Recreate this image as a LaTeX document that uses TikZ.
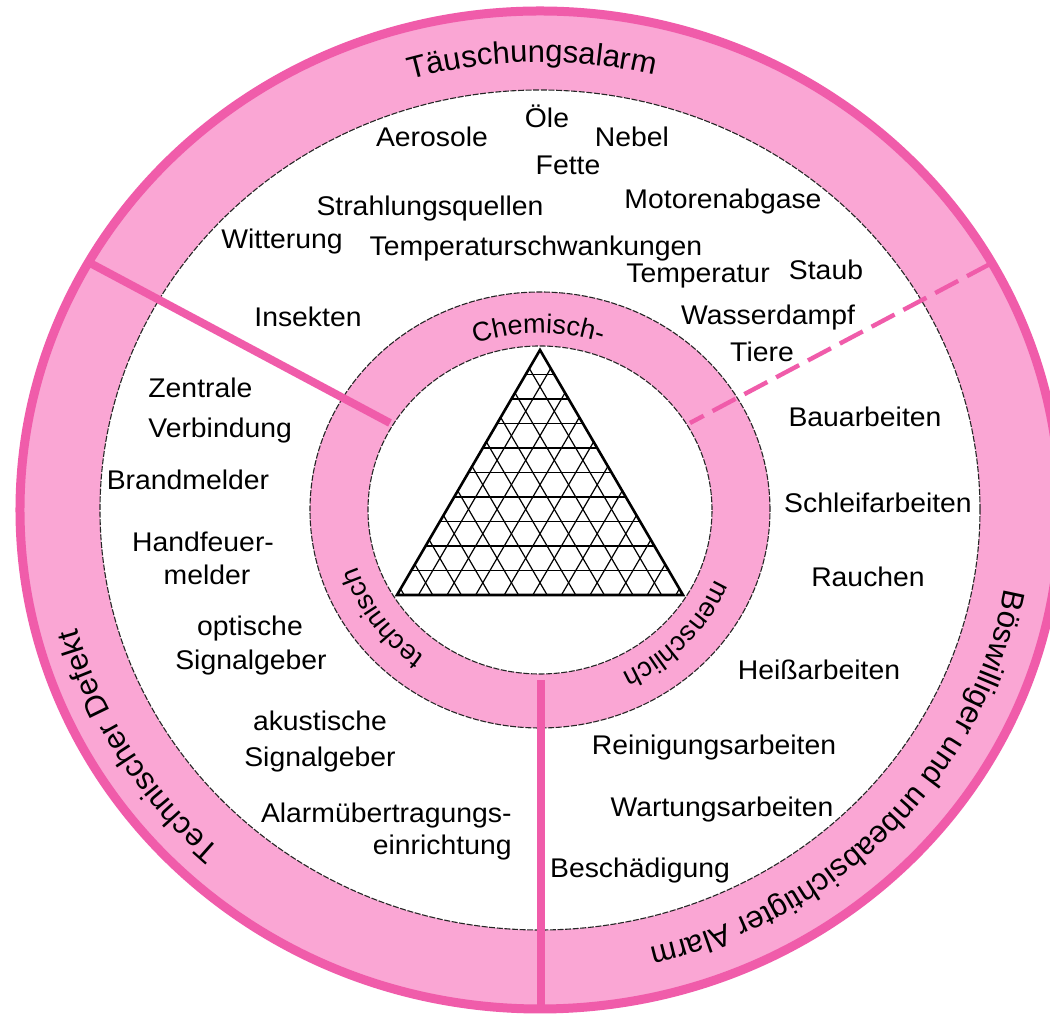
\documentclass[tikz,border=0pt]{standalone}
\usepackage{fontspec}
\setmainfont{Liberation Sans}
\usetikzlibrary{decorations.text,calc}
\definecolor{ringpink}{RGB}{250,166,212}
\definecolor{linepink}{RGB}{240,92,170}
\newcommand{\bodyfont}{\fontsize{13.5}{16}\selectfont}
\newcommand{\ringfont}{\fontsize{15.5}{18}\selectfont}
\begin{document}
\begin{tikzpicture}[x=0.5pt,y=0.5pt,
  lbl/.style={font=\bodyfont, inner sep=0pt, anchor=base, xscale=1.05},
  lblw/.style={lbl, anchor=base west},
  lble/.style={lbl, anchor=base east},
  edgeline/.style={draw=black!85, line width=0.55pt, dash pattern=on 3pt off 0.8pt},
  divider/.style={draw=linepink, line width=4pt},
  gridline/.style={line width=0.6pt},
  ringtext/.style={decorate, decoration={text along path, text align=center, text={#1}}}
]
\useasboundingbox (-540,-505) rectangle (510,510);
\clip (-540,-505) rectangle (510,510);
\fill[white] (-540,-505) rectangle (510,510);
% rings
\fill[ringpink] (0,0) ellipse [x radius=523, y radius=502];
\fill[white] (0,0) ellipse [x radius=440, y radius=420];
\fill[ringpink] (0,0) ellipse [x radius=230, y radius=218];
\fill[white] (0,0) ellipse [x radius=172, y radius=164];
\draw[edgeline] (0,0) ellipse [x radius=440, y radius=420];
\draw[edgeline] (0,0) ellipse [x radius=230, y radius=218];
\draw[edgeline] (0,0) ellipse [x radius=172, y radius=164];
\draw[linepink, line width=4.5pt] (0,0) ellipse [x radius=520, y radius=499];
% dividers
\coordinate (d1a) at (-450,247); \coordinate (d1b) at (-150,87);
\coordinate (d2a) at (450,246); \coordinate (d2b) at (150,87);
\coordinate (d3a) at (1,-170); \coordinate (d3b) at (1,-503);
\draw[divider] (d1a) -- (d1b);
\draw[divider, line width=2.2pt, dash pattern=on 13pt off 5pt] (d2a) -- (d2b);
\draw[divider] (d3a) -- (d3b);
% triangle grid
\coordinate (A) at (0,160); \coordinate (BL) at (-143,-85); \coordinate (BR) at (143,-85);
\foreach \i in {1,...,9}{
  \pgfmathsetmacro\t{\i/10}
  \draw[gridline] ($(A)!\t!(BL)$) -- ($(A)!\t!(BR)$);
}
\foreach \i in {0,...,9}{
  \pgfmathsetmacro\s{0.025+\i/10}
  \pgfmathsetmacro\r{1-\s}
  \draw[gridline] ($(BL)!\s!(BR)$) -- ($(A)!\r!(BL)$);
  \draw[gridline] ($(BL)!\r!(BR)$) -- ($(A)!\r!(BR)$);
}
\draw[line width=1.3pt, line join=miter] (A) -- (BL) -- (BR) -- cycle;
% ring labels
\path[ringtext={|\ringfont|Täuschungsalarm}] (130:468 and 448) arc[start angle=130, end angle=52, x radius=468, y radius=448];
\path[ringtext={|\ringfont|Technischer Defekt}] (241.4:479 and 456) arc[start angle=241.4, end angle=181.4, x radius=479, y radius=456];
\path[ringtext={|\ringfont|Böswilliger und unbeabsichtigter Alarm}] (0:472 and 450) arc[start angle=0, end angle=-86.2, x radius=472, y radius=450];
\path[ringtext={|\bodyfont|Chemisch-}] (130:186 and 177) arc[start angle=130, end angle=51, x radius=186, y radius=177];
\path[ringtext={|\bodyfont|menschlich}] (-3:190 and 181) arc[start angle=-3, end angle=-83, x radius=190, y radius=181];
\path[ringtext={|\bodyfont|technisch}] (255:192 and 183) arc[start angle=255, end angle=175, x radius=192, y radius=183];
% top sector
\node[lbl] (aer) at (-108,363) {Aerosole};
\node[lbl] (oel) at (7,382) {Öle};
\node[lbl] (neb) at (92,363) {Nebel};
\node[lbl] (fet) at (28,335) {Fette};
\node[lbl] (mot) at (183,301) {Motorenabgase};
\node[lbl] (str) at (-110,294) {Strahlungsquellen};
\node[lbl] (wit) at (-258,261) {Witterung};
\node[lbl] (tsw) at (-4,254) {Temperaturschwankungen};
\node[lbl] (tem) at (158,227) {Temperatur};
\node[lbl] (sta) at (286,230) {Staub};
\node[lbl] (ins) at (-232,183) {Insekten};
\node[lbl] (was) at (228,185) {Wasserdampf};
\node[lbl] (tie) at (222,148) {Tiere};
% left sector
\node[lblw] (zen) at (-392,112) {Zentrale};
\node[lblw] (ver) at (-392,72) {Verbindung};
\node[lbl] (bra) at (-352,20) {Brandmelder};
\node[lbl] (han) at (-337,-42) {Handfeuer-};
\node[lbl] (mel) at (-333,-75) {melder};
\node[lbl] (opt) at (-290,-126) {optische};
\node[lbl] (sig1) at (-289,-160) {Signalgeber};
\node[lbl] (aku) at (-220,-221) {akustische};
\node[lbl] (sig2) at (-220,-257) {Signalgeber};
\node[lble] (alu) at (-28,-313) {Alarmübertragungs-};
\node[lble] (ein) at (-28,-345) {einrichtung};
% right sector
\node[lbl] (bau) at (325,83) {Bauarbeiten};
\node[lbl] (sch) at (338,-3) {Schleifarbeiten};
\node[lbl] (rau) at (328,-77) {Rauchen};
\node[lbl] (hei) at (279,-170) {Heißarbeiten};
\node[lbl] (rei) at (174,-245) {Reinigungsarbeiten};
\node[lbl] (war) at (182,-307) {Wartungsarbeiten};
\node[lbl] (bes) at (100,-368) {Beschädigung};
\end{tikzpicture}
\end{document}
